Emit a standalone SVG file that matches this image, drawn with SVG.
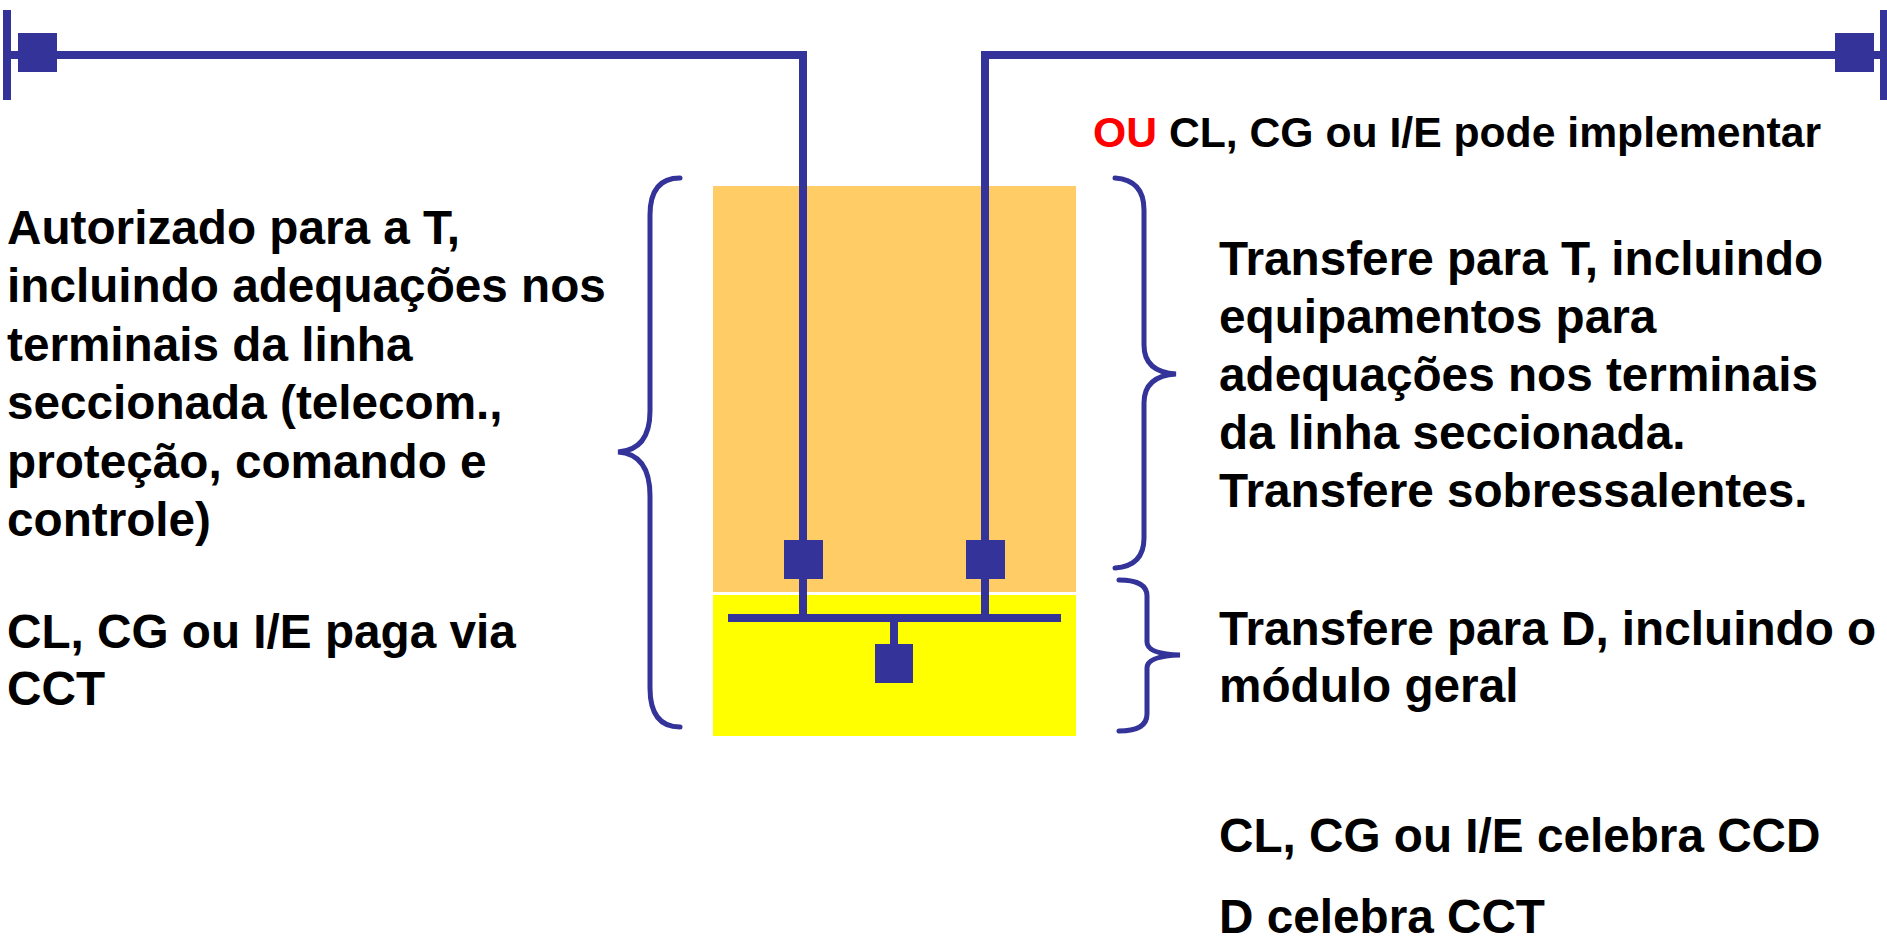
<svg xmlns="http://www.w3.org/2000/svg" width="1887" height="944" viewBox="0 0 1887 944">
<style>
.t{font-family:"Liberation Sans",Arial,sans-serif;font-weight:bold;font-size:47.7px;fill:#000}
.ts{font-family:"Liberation Sans",Arial,sans-serif;font-weight:bold;font-size:42.7px;fill:#000}
.red{fill:#FF0000}
.ln{stroke:#333399;stroke-width:8;fill:none}
.br{stroke:#333399;stroke-width:5;fill:none;stroke-linecap:round}
.sq{fill:#333399}
</style>
<rect width="1887" height="944" fill="#fff"/>
<g id="zone-T"><rect x="713" y="186" width="363" height="406" fill="#FFCC66"/></g>
<g id="zone-D"><rect x="713" y="595" width="363" height="141" fill="#FFFF00"/></g>
<g id="connectors">
<line class="ln" x1="7" y1="55" x2="803" y2="55"/>
<line class="ln" x1="803" y1="51" x2="803" y2="618"/>
<line class="ln" x1="985" y1="55" x2="1884" y2="55"/>
<line class="ln" x1="985" y1="51" x2="985" y2="618"/>
<line class="ln" x1="728" y1="618" x2="1061" y2="618"/>
<line class="ln" x1="894" y1="618" x2="894" y2="646"/>
</g>
<g id="bar-left"><rect class="sq" x="3" y="10" width="8" height="90"/><rect class="sq" x="18" y="33" width="39" height="39"/></g>
<g id="bar-right"><rect class="sq" x="1880" y="10" width="8" height="90"/><rect class="sq" x="1835" y="33" width="39" height="39"/></g>
<g id="bay-left"><rect class="sq" x="784" y="540" width="39" height="39"/></g>
<g id="bay-right"><rect class="sq" x="966" y="540" width="39" height="39"/></g>
<g id="bay-general"><rect class="sq" x="875" y="644" width="38" height="39"/></g>
<g id="braces">
<path class="br" d="M680,178 Q650,178 650,215 L650,411 Q650,450 618,452 Q650,454 650,496 L650,688 Q650,727 680,727"/>
<path class="br" d="M1115,178 Q1144,180 1144,210 L1144,345 Q1144,372 1176,374 Q1144,376 1144,403 L1144,538 Q1144,566 1115,568"/>
<path class="br" d="M1119,580 Q1147,580 1147,596 L1147,642 Q1147,654 1180,655 Q1147,656 1147,668 L1147,714 Q1147,731 1119,731"/>
</g>
<g id="text-left">
<text class="t" x="7" y="244">Autorizado para a T,</text>
<text class="t" x="7" y="302">incluindo adequações nos</text>
<text class="t" x="7" y="361">terminais da linha</text>
<text class="t" x="7" y="419">seccionada (telecom.,</text>
<text class="t" x="7" y="478">proteção, comando e</text>
<text class="t" x="7" y="536">controle)</text>
<text class="t" x="7" y="648">CL, CG ou I/E paga via</text>
<text class="t" x="7" y="705">CCT</text>
</g>
<g id="text-top-right">
<text class="ts" x="1093" y="147"><tspan class="red">OU</tspan> CL, CG ou I/E pode implementar</text>
</g>
<g id="text-right">
<text class="t" x="1219" y="275">Transfere para T, incluindo</text>
<text class="t" x="1219" y="333">equipamentos para</text>
<text class="t" x="1219" y="391">adequações nos terminais</text>
<text class="t" x="1219" y="449">da linha seccionada.</text>
<text class="t" x="1219" y="507">Transfere sobressalentes.</text>
<text class="t" x="1219" y="645">Transfere para D, incluindo o</text>
<text class="t" x="1219" y="702">módulo geral</text>
<text class="t" x="1219" y="852">CL, CG ou I/E celebra CCD</text>
<text class="t" x="1219" y="933">D celebra CCT</text>
</g>
</svg>
